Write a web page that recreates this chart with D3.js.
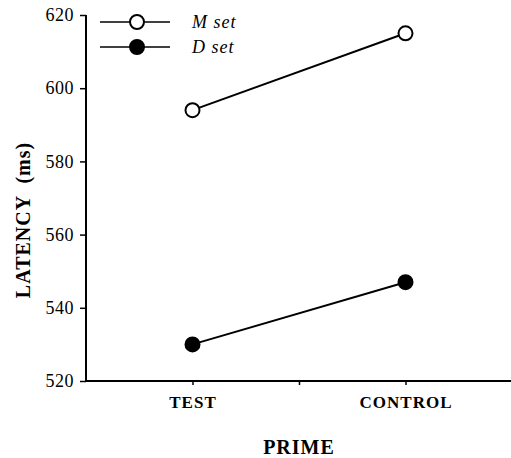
<!DOCTYPE html>
<html>
<head>
<meta charset="utf-8">
<script src="https://cdn.jsdelivr.net/npm/d3@7"></script>
<style>
  body { margin: 0; background: #fff; }
  svg { display: block; font-family: "Liberation Serif", "DejaVu Serif", serif; }
</style>
</head>
<body>
<div id="svgContainer"></div>
<script>
// data
const primes = ["TEST", "CONTROL"];
const primePos = [1, 3];
const mSet = [594, 615];
const dSet = [530, 547];
const yTicks = [520, 540, 560, 580, 600, 620];
const seriesNames = ["M set", "D set"];

const width = 511;
const height = 458;
const serif = "'Liberation Serif', 'DejaVu Serif', serif";

const svg = d3.select("#svgContainer").append("svg")
    .attr("width", width)
    .attr("height", height);

const x = d3.scaleLinear().domain([0, 4]).range([86, 512]);
const y = d3.scaleLinear().domain([520, 620]).range([381, 15]);

// y axis
const yAxis = svg.append("g")
    .attr("transform", "translate(86,0)")
    .call(d3.axisLeft(y).tickValues(yTicks).tickSize(6).tickPadding(6));
yAxis.attr("font-family", serif);
yAxis.select(".domain").attr("stroke-width", 2).attr("d", `M0,${y(620)}H0V${y(520)}`);
yAxis.selectAll(".tick line").attr("stroke-width", 1.5);
yAxis.selectAll("text").attr("font-size", 18).attr("letter-spacing", 0.5).attr("fill", "#000");

// x axis
const xAxis = svg.append("g")
    .attr("transform", `translate(0,${y(520)})`)
    .call(d3.axisBottom(x).tickValues([1, 2, 3]).tickSize(4).tickFormat(d => {
        const i = primePos.indexOf(d);
        return i >= 0 ? primes[i] : "";
    }).tickPadding(11));
xAxis.attr("font-family", serif);
xAxis.select(".domain").attr("stroke-width", 2).attr("d", `M${x(0)},0H${x(4)}`);
xAxis.selectAll(".tick line").attr("stroke-width", 1.5);
xAxis.selectAll("text")
    .attr("font-size", 17)
    .attr("font-weight", "bold")
    .attr("letter-spacing", 1)
    .attr("fill", "#000");

// axis titles
svg.append("text")
    .attr("x", x(2))
    .attr("y", 454)
    .attr("text-anchor", "middle")
    .attr("font-size", 20)
    .attr("font-weight", "bold")
    .attr("letter-spacing", 1)
    .text("PRIME");

svg.append("text")
    .attr("transform", `translate(30,220) rotate(-90)`)
    .attr("text-anchor", "middle")
    .attr("font-size", 20)
    .attr("font-weight", "bold")
    .attr("letter-spacing", 1)
    .attr("xml:space", "preserve")
    .text("LATENCY  (ms)");

// series
const series = [
    { name: seriesNames[0], values: mSet, fill: "#fff" },
    { name: seriesNames[1], values: dSet, fill: "#000" }
];

const line = d3.line()
    .x((d, i) => x(primePos[i]))
    .y(d => y(d));

series.forEach(s => {
    svg.append("path")
        .attr("d", line(s.values))
        .attr("fill", "none")
        .attr("stroke", "#000")
        .attr("stroke-width", 2);
    svg.append("g")
        .selectAll("circle")
        .data(s.values)
        .join("circle")
        .attr("cx", (d, i) => x(primePos[i]))
        .attr("cy", d => y(d))
        .attr("r", 7)
        .attr("fill", s.fill)
        .attr("stroke", "#000")
        .attr("stroke-width", 2);
});

// legend
const legend = svg.append("g");
series.forEach((s, i) => {
    const ly = 22 + i * 25;
    legend.append("line")
        .attr("x1", 100).attr("x2", 170)
        .attr("y1", ly).attr("y2", ly)
        .attr("stroke", "#000")
        .attr("stroke-width", 1.5);
    legend.append("circle")
        .attr("cx", 137).attr("cy", ly)
        .attr("r", 7)
        .attr("fill", s.fill)
        .attr("stroke", "#000")
        .attr("stroke-width", 2);
    legend.append("text")
        .attr("x", 192)
        .attr("y", ly + 6)
        .attr("font-size", 18)
        .attr("font-style", "italic")
        .attr("letter-spacing", 1)
        .text(s.name);
});
</script>
</body>
</html>
